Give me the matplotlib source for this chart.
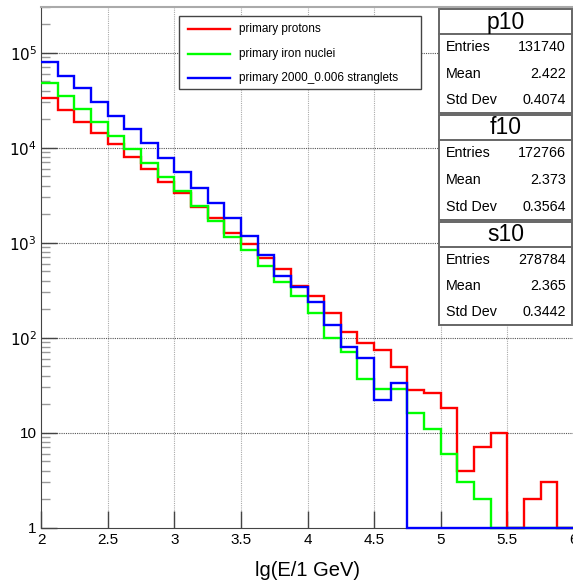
import numpy as np
import matplotlib.pyplot as plt
from matplotlib.patches import Rectangle
from matplotlib.lines import Line2D
from matplotlib.ticker import FixedLocator, FuncFormatter, NullFormatter

plt.rcParams['font.family'] = ['Liberation Sans', 'DejaVu Sans']

# histogram binning: lg(E/1 GeV) from 2 to 6, 32 bins
bin_edges = np.linspace(2.0, 6.0, 33)

# counts (0 = empty bin)
protons = [33100, 24800, 18700, 14300, 10900, 8040, 5970, 4390,
           3310, 2390, 1810, 1270, 962, 695, 532, 352,
           278, 180, 116, 88, 74, 49, 28, 26,
           18, 4, 7, 10, 0, 2, 3, 0]
iron = [48300, 35200, 25800, 18800, 13400, 9750, 6900, 4950,
        3500, 2450, 1690, 1140, 838, 573, 383, 277,
        180, 99, 70, 37, 29, 29, 16, 11,
        6, 3, 2, 0, 0, 0, 0, 0]
stranglets = [79000, 57000, 42000, 30000, 21700, 15600, 11300, 7800,
              5500, 3740, 2600, 1800, 1180, 743, 450, 344,
              239, 135, 80, 61, 22, 33, 0, 0,
              0, 0, 0, 0, 0, 0, 0, 0]

series_labels = ["primary protons", "primary iron nuclei", "primary 2000_0.006 stranglets"]
series_colors = ["#ff0000", "#00ff00", "#0000ff"]

stat_names = ["p10", "f10", "s10"]
stat_entries = ["131740", "172766", "278784"]
stat_means = ["2.422", "2.373", "2.365"]
stat_stds = ["0.4074", "0.3564", "0.3442"]

W, H = 573, 587
fig = plt.figure(figsize=(W / 100, H / 100), dpi=100)

def fx(px):
    return px / W

def fy(py):
    return 1 - py / H

ax = fig.add_axes([fx(41), fy(527.7), fx(574) - fx(41), fy(6.7) - fy(527.7)])
ax.set_yscale("log")
ax.set_xlim(2, 6)
ymin, ymax = 1, 3.05e5
ax.set_ylim(ymin, ymax)

for vals, col in zip([protons, iron, stranglets], series_colors):
    v = np.asarray(vals, dtype=float)
    v = np.where(v > 0, v, ymin)  # empty bins drawn on the axis floor, like ROOT
    ax.stairs(v, bin_edges, color=col, lw=1.7, baseline=None, clip_on=False, zorder=3)

# grid
for x in np.arange(2.5, 6.0, 0.5):
    ax.axvline(x, color="#aaaaaa", lw=0.8, ls=(0, (1, 1)), zorder=1)
for p in range(1, 6):
    ax.axhline(10 ** p, color="#555555", lw=0.8, ls=(0, (1, 1)), zorder=1)

# ticks
ax.xaxis.set_major_locator(FixedLocator(np.arange(2.0, 6.01, 0.5)))
ax.xaxis.set_major_formatter(FuncFormatter(lambda v, p: f"{v:g}"))
ax.yaxis.set_major_locator(FixedLocator([10 ** p for p in range(0, 6)]))
ax.yaxis.set_major_formatter(FuncFormatter(
    lambda v, p: "1" if v < 5 else ("10" if v < 50 else r"$10^{%d}$" % round(np.log10(v)))))
minors = [m * 10 ** p for p in range(0, 6) for m in range(2, 10) if m * 10 ** p < ymax]
ax.yaxis.set_minor_locator(FixedLocator(minors))
ax.yaxis.set_minor_formatter(NullFormatter())
ax.tick_params(axis="x", which="major", direction="in", length=12.5, width=1,
               color="#444444", labelsize=11, pad=4, top=False)
ax.tick_params(axis="y", which="major", direction="in", length=11.5, width=1,
               color="#444444", labelsize=11, pad=3, right=False)
ax.tick_params(axis="y", which="minor", direction="in", length=6.3, width=1,
               color="#999999", right=False)

ax.spines["left"].set_color("#444444")
ax.spines["bottom"].set_color("#444444")
ax.spines["top"].set_color("#aaaaaa")
ax.spines["top"].set_linewidth(1.5)
ax.spines["right"].set_visible(False)

ax.set_xlabel("lg(E/1 GeV)", fontsize=14.5, labelpad=10)

# legend box
leg = Rectangle((fx(179.3), fy(89.3)), fx(420.7) - fx(179.3), fy(16) - fy(89.3),
                transform=fig.transFigure, facecolor="white", edgecolor="#444444",
                lw=1, zorder=10)
fig.patches.append(leg)
for i, (lab, col) in enumerate(zip(series_labels, series_colors)):
    yy = fy([29.3, 54, 78.3][i])
    fig.lines.append(Line2D([fx(188), fx(230)], [yy, yy], transform=fig.transFigure,
                            color=col, lw=1.7, zorder=11))
    fig.text(fx(239.3), yy, lab, fontsize=8.5, va="center", ha="left", zorder=11)

# stats boxes
boxes = [(9.3, 34.3, 113.3), (115, 140, 220), (221.7, 246.7, 325)]
x0, x1 = 439.3, 572.3
for k, (top, sep, bot) in enumerate(boxes):
    r = Rectangle((fx(x0), fy(bot)), fx(x1) - fx(x0), fy(top) - fy(bot),
                  transform=fig.transFigure, facecolor="white", edgecolor="#666666",
                  lw=1.4, zorder=10)
    fig.patches.append(r)
    fig.lines.append(Line2D([fx(x0), fx(x1)], [fy(sep), fy(sep)], transform=fig.transFigure,
                            color="#666666", lw=1.4, zorder=11))
    fig.text(fx((x0 + x1) / 2), fy((top + sep) / 2 + 0.5), stat_names[k], fontsize=16.5,
             ha="center", va="center", zorder=11)
    rows = [("Entries", stat_entries[k]), ("Mean", stat_means[k]), ("Std Dev", stat_stds[k])]
    row_h = (bot - sep) / 3
    for j, (name, val) in enumerate(rows):
        yy = fy(sep + row_h * (j + 0.5))
        fig.text(fx(445.7), yy, name, fontsize=10.3, ha="left", va="center", zorder=11)
        fig.text(fx(565.7), yy, val, fontsize=10.3, ha="right", va="center", zorder=11)

fig.savefig("out.png", dpi=100)
